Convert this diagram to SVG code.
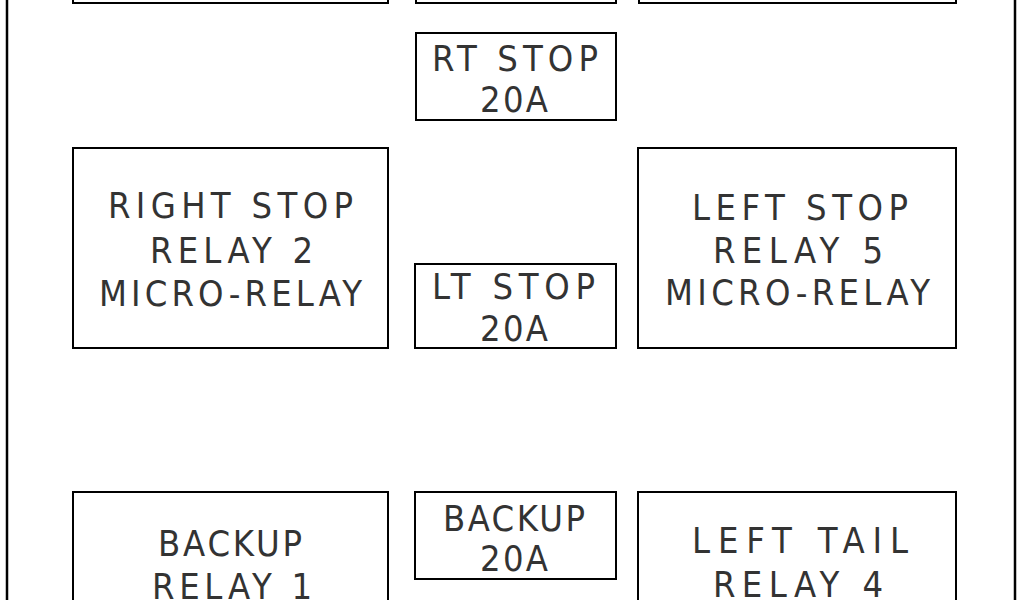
<svg xmlns="http://www.w3.org/2000/svg" width="1024" height="600" viewBox="0 0 1024 600">
<style>
.box{fill:#fff;stroke:#000;stroke-width:2}
.frame{stroke:#000;stroke-width:2.5;fill:none}
text{font-family:"DejaVu Sans Condensed","DejaVu Sans","Liberation Sans",sans-serif;font-stretch:condensed;font-size:36px;fill:#333;text-anchor:middle}
</style>
<rect width="1024" height="600" fill="#fff"/>
<g id="frame">
<line class="frame" x1="7" y1="0" x2="7" y2="600"/>
<line class="frame" x1="1015" y1="0" x2="1015" y2="600"/>
</g>
<g id="top-left"><rect class="box" x="73" y="-20" width="315" height="23"/></g>
<g id="top-mid"><rect class="box" x="416" y="-20" width="200" height="23"/></g>
<g id="top-right"><rect class="box" x="639" y="-20" width="317" height="23"/></g>
<g id="rt-stop">
<rect class="box" x="416" y="33" width="200" height="87"/>
<text x="515" y="71" textLength="166" lengthAdjust="spacing">RT STOP</text>
<text x="514" y="112" textLength="68" lengthAdjust="spacing">20A</text>
</g>
<g id="right-stop-relay">
<rect class="box" x="73" y="148" width="315" height="200"/>
<text x="230.5" y="218" textLength="245" lengthAdjust="spacing">RIGHT STOP</text>
<text x="231.5" y="263" textLength="163" lengthAdjust="spacing">RELAY 2</text>
<text x="230.5" y="306" textLength="263" lengthAdjust="spacing">MICRO-RELAY</text>
</g>
<g id="lt-stop">
<rect class="box" x="415" y="264" width="201" height="84"/>
<text x="513.5" y="299" textLength="163" lengthAdjust="spacing">LT STOP</text>
<text x="514" y="341" textLength="68" lengthAdjust="spacing">20A</text>
</g>
<g id="left-stop-relay">
<rect class="box" x="638" y="148" width="318" height="200"/>
<text x="800" y="220" textLength="216" lengthAdjust="spacing">LEFT STOP</text>
<text x="798" y="263" textLength="170" lengthAdjust="spacing">RELAY 5</text>
<text x="797.5" y="305" textLength="265" lengthAdjust="spacing">MICRO-RELAY</text>
</g>
<g id="backup-relay">
<rect class="box" x="73" y="492" width="315" height="130"/>
<text x="230" y="556" textLength="144" lengthAdjust="spacing">BACKUP</text>
<text x="232" y="599" textLength="160" lengthAdjust="spacing">RELAY 1</text>
</g>
<g id="backup-fuse">
<rect class="box" x="415" y="492" width="201" height="87"/>
<text x="514" y="531" textLength="142" lengthAdjust="spacing">BACKUP</text>
<text x="514" y="571" textLength="68" lengthAdjust="spacing">20A</text>
</g>
<g id="left-tail-relay">
<rect class="box" x="638" y="492" width="318" height="130"/>
<text x="800" y="553" textLength="216" lengthAdjust="spacing">LEFT TAIL</text>
<text x="798" y="597" textLength="170" lengthAdjust="spacing">RELAY 4</text>
</g>
<g id="connectors"></g>
</svg>
